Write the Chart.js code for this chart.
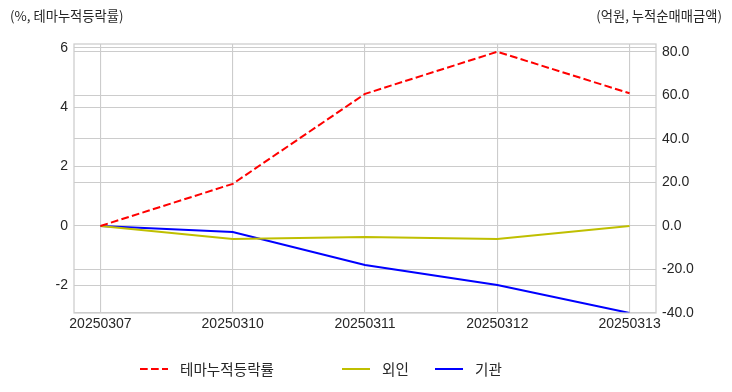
<!DOCTYPE html>
<html>
<head>
<meta charset="utf-8">
<script src="https://cdn.jsdelivr.net/npm/chart.js@4"></script>
<style>
	html, body { margin: 0; padding: 0; background: #fff; }
	#wrap { position: relative; width: 732px; height: 392px; font-family: "Liberation Sans", "Noto Sans CJK KR", sans-serif; color: #262626; }
	#wrap canvas { position: absolute; left: 0; top: 0; }
	.axis-title { position: absolute; top: 6px; font-size: 13.3px; font-family: "Noto Sans CJK KR", sans-serif; white-space: nowrap; }
	#title-left { left: 10px; }
	#title-right { right: 10px; }
	.legend-item { position: absolute; top: 360px; height: 18px; font-size: 14.6px; font-family: "Noto Sans CJK KR", sans-serif; white-space: nowrap; }
	.legend-item svg { position: absolute; left: 0; top: 0; }
	.legend-item span { position: absolute; top: 0; line-height: 18px; }
</style>
</head>
<body>
<div id="wrap">
	<canvas id="chart" width="732" height="392"></canvas>
	<div class="axis-title" id="title-left">(%, 테마누적등락률)</div>
	<div class="axis-title" id="title-right">(억원, 누적순매매금액)</div>
	<div id="legend"></div>
</div>
<script>
var dates = ['20250307', '20250310', '20250311', '20250312', '20250313'];
var themeReturn = [0, 1.42, 4.45, 5.87, 4.47];     // %, left axis
var foreignNet = [0, -6.0, -5.1, -6.0, 0];         // 억원, right axis
var institutionNet = [0, -2.8, -17.9, -27.1, -40.0];

var leftTicks = [-2, 0, 2, 4, 6];
var rightTicks = [-40, -20, 0, 20, 40, 60, 80];

var seriesNames = ['테마누적등락률', '외인', '기관'];
var seriesColors = ['#ff0000', '#bfbf00', '#0000ff'];

function points(values) {
	return values.map(function (v, i) { return { x: i, y: v }; });
}

var gridColor = '#cccccc';
var tickFont = { family: '"Liberation Sans", Arial, sans-serif', size: 14 };

var framePlugin = {
	id: 'frame',
	afterDraw: function (chart) {
		var a = chart.chartArea;
		var ctx = chart.ctx;
		ctx.save();
		ctx.strokeStyle = gridColor;
		ctx.lineWidth = 1.25;
		ctx.strokeRect(a.left, a.top, a.right - a.left, a.bottom - a.top);
		ctx.restore();
	}
};

new Chart(document.getElementById('chart'), {
	type: 'line',
	data: {
		datasets: [
			{
				label: seriesNames[0],
				data: points(themeReturn),
				yAxisID: 'y',
				borderColor: seriesColors[0],
				backgroundColor: seriesColors[0],
				borderWidth: 2,
				borderDash: [7.7, 3.3],
				pointRadius: 0,
				fill: false
			},
			{
				label: seriesNames[1],
				data: points(foreignNet),
				yAxisID: 'y2',
				borderColor: seriesColors[1],
				backgroundColor: seriesColors[1],
				borderWidth: 2,
				pointRadius: 0,
				fill: false
			},
			{
				label: seriesNames[2],
				data: points(institutionNet),
				yAxisID: 'y2',
				borderColor: seriesColors[2],
				backgroundColor: seriesColors[2],
				borderWidth: 2,
				pointRadius: 0,
				fill: false
			}
		]
	},
	options: {
		responsive: false,
		animation: false,
		layout: { padding: { top: 44, bottom: 49, left: 0, right: 0 } },
		plugins: {
			legend: { display: false },
			tooltip: { enabled: false }
		},
		scales: {
			x: {
				type: 'linear',
				min: -0.2,
				max: 4.2,
				afterFit: function (scale) { scale.height = 30; },
				afterBuildTicks: function (scale) {
					scale.ticks = dates.map(function (d, i) { return { value: i }; });
				},
				ticks: {
					padding: 3,
					color: '#262626',
					font: tickFont,
					maxRotation: 0,
					autoSkip: false,
					callback: function (value) { return dates[value]; }
				},
				grid: { color: gridColor, lineWidth: 1.1, drawTicks: false },
				border: { display: false }
			},
			y: {
				position: 'left',
				min: -2.93,
				max: 6.13,
				afterFit: function (scale) { scale.width = 74; },
				afterBuildTicks: function (scale) {
					scale.ticks = leftTicks.map(function (v) { return { value: v }; });
				},
				ticks: {
					padding: 6,
					color: '#262626',
					font: tickFont,
					callback: function (value) { return String(value); }
				},
				grid: { color: gridColor, lineWidth: 1.1, drawTicks: false },
				border: { display: false }
			},
			y2: {
				position: 'right',
				min: -40,
				max: 83.7,
				afterFit: function (scale) { scale.width = 76; },
				afterBuildTicks: function (scale) {
					scale.ticks = rightTicks.map(function (v) { return { value: v }; });
				},
				ticks: {
					padding: 6,
					color: '#262626',
					font: tickFont,
					callback: function (value) { return value.toFixed(1); }
				},
				grid: { color: gridColor, lineWidth: 1.1, drawTicks: false },
				border: { display: false }
			}
		}
	},
	plugins: [framePlugin]
});

// legend, laid out like the matplotlib one
var legendX = [140, 342, 435];
var legend = document.getElementById('legend');
seriesNames.forEach(function (name, i) {
	var item = document.createElement('div');
	item.className = 'legend-item';
	item.style.left = legendX[i] + 'px';
	var dash = i === 0 ? ' stroke-dasharray="7.7 3.3"' : '';
	item.innerHTML = '<svg width="30" height="18"><line x1="0" y1="9" x2="28" y2="9" stroke="' +
		seriesColors[i] + '" stroke-width="2"' + dash + '/></svg><span style="left:40px">' + name + '</span>';
	legend.appendChild(item);
});
</script>
</body>
</html>
